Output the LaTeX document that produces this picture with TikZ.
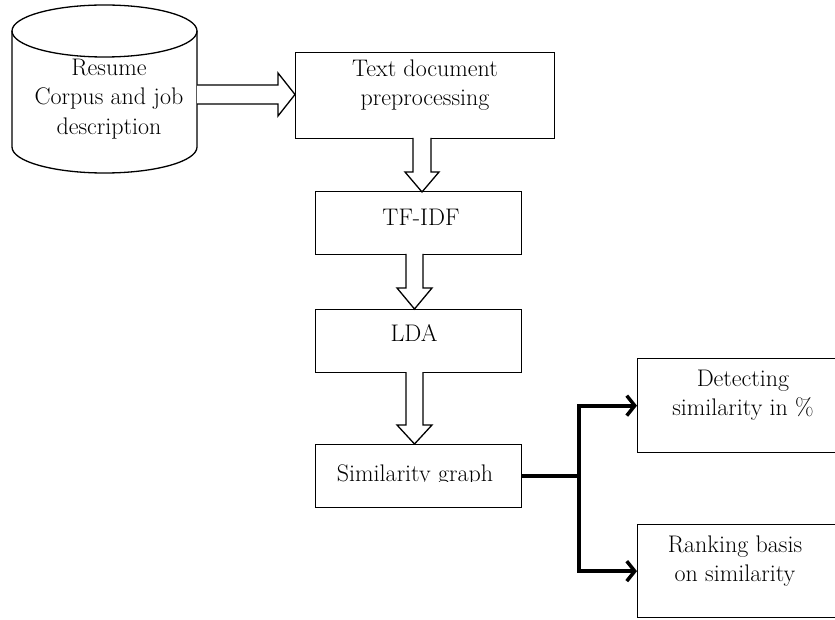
\documentclass[tikz,border=0pt]{standalone}
\usetikzlibrary{arrows.meta,calc}
\begin{document}
\begin{tikzpicture}[x=1pt,y=-1pt,
  box/.style={draw=black, line width=1.3pt, inner sep=0pt, anchor=north west},
  txt/.style={inner sep=0pt, align=center, font=\fontsize{24}{29.5}\selectfont},
  blk/.style={draw=black, line width=1.3pt, fill=white, line join=miter},
  conn/.style={draw=black, line width=3.8pt},
  tip/.style={-{Straight Barb[length=8pt,width=20pt,line width=3.5pt]}}]
\useasboundingbox (0,0) rectangle (835,620);
\clip (0,0) rectangle (835,620);
% cylinder
\draw[line width=1.3pt, fill=white] (12,31) -- (12,147) arc[start angle=180, end angle=0, x radius=92.5, y radius=26] -- (197,31);
\draw[line width=1.3pt] (104.5,31) ellipse[x radius=92.5, y radius=26];
\node[txt] (db) at (109,99) {Resume\\Corpus and job\\description};
% boxes
\node[box, minimum width=259, minimum height=86] (pre) at (295,52) {};
\node[txt] (pret) at (425,85) {Text document\\preprocessing};
\node[box, minimum width=206, minimum height=63] (tf) at (315,191) {};
\node[txt] (tft) at (421,217) {TF-IDF};
\node[box, minimum width=206, minimum height=63] (lda) at (315,309) {};
\node[txt] (ldat) at (414,333) {LDA};
\node[box, minimum width=206, minimum height=63] (sim) at (315,444) {};
\begin{scope}
\clip (315,444) rectangle (521,481.5);
\node[txt, anchor=base] (simt) at (415,481) {Similarity graph};
\end{scope}
\node[box, minimum width=215, minimum height=94] (det) at (637,358) {};
\node[txt] (dett) at (743,395) {Detecting\\similarity in \%};
\node[box, minimum width=215, minimum height=93] (rank) at (637,524) {};
\node[txt] (rankt) at (735,561) {Ranking basis\\on similarity};
% block arrows
\draw[blk] (197,85) -- (278,85) -- (278,73) -- (295,94.5) -- (278,116) -- (278,104) -- (197,104);
\draw[blk] (413,138) -- (413,172) -- (405,172) -- (422,192) -- (439,172) -- (431,172) -- (431,138);
\draw[blk] (406,254) -- (406,288) -- (397,288) -- (414.5,309) -- (432,288) -- (423,288) -- (423,254);
\draw[blk] (406,372) -- (406,425) -- (397,425) -- (414.5,444) -- (432,425) -- (423,425) -- (423,372);
% connectors
\draw[conn] (sim.east) -- ++(57,0) coordinate (j);
\draw[conn, line cap=rect] (j |- det.west) -- (j |- rank.west);
\draw[conn, tip] (j |- det.west) -- (det.west);
\draw[conn, tip] (j |- rank.west) -- (rank.west);
\end{tikzpicture}
\end{document}
